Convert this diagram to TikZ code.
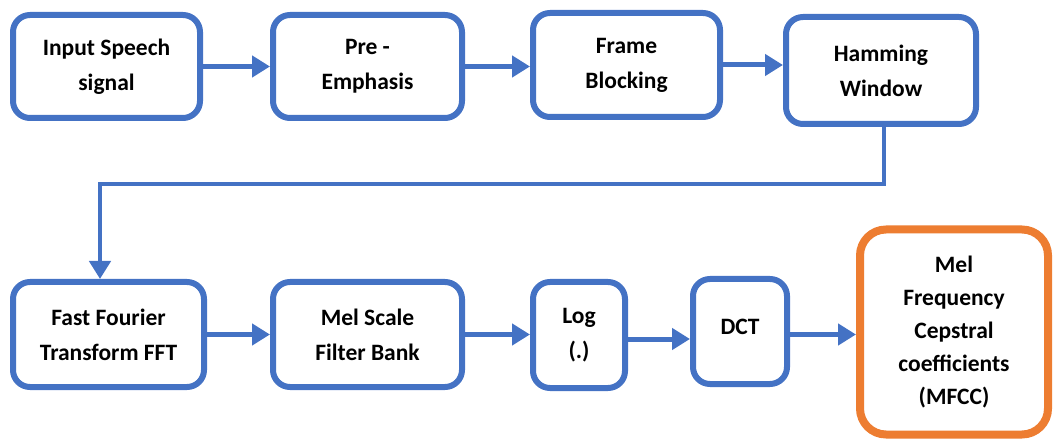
\documentclass[tikz,border=0pt]{standalone}
\usepackage{fontspec}
\setmainfont{Carlito}
\usetikzlibrary{arrows.meta,calc}
\definecolor{boxblue}{HTML}{4472C4}
\definecolor{boxorange}{HTML}{ED7D31}
\tikzset{
  stepbox/.style={draw=boxblue, line width=6pt, rounded corners=17pt, fill=white,
    align=center, font=\fontsize{23.5}{35}\selectfont\bfseries, inner sep=0pt},
  endbox/.style={stepbox, draw=boxorange, line width=8pt, rounded corners=26pt},
  flow/.style={draw=boxblue, line width=5pt, -{Triangle[length=18pt,width=21pt]}},
}
\begin{document}
\begin{tikzpicture}[x=1pt,y=-1pt]
\useasboundingbox (0,0) rectangle (1059,443);
\node[stepbox, minimum width=187pt, minimum height=103pt] (in) at (106.5,66.5) {Input Speech\\signal};
\node[stepbox, minimum width=189pt, minimum height=103pt] (pe) at (367.5,66.5) {Pre -\\Emphasis};
\node[stepbox, minimum width=187pt, minimum height=104pt] (fb) at (626.5,65) {Frame\\Blocking};
\node[stepbox, minimum width=190pt, minimum height=107pt] (hw) at (881,70.5) {Hamming\\Window};
\node[stepbox, minimum width=191pt, minimum height=105pt] (fft) at (108.5,334.5) {Fast Fourier\\Transform FFT};
\node[stepbox, minimum width=189pt, minimum height=105pt] (mel) at (367.5,334.5) {Mel Scale\\Filter Bank};
\node[stepbox, minimum width=92pt, minimum height=106pt] (log) at (579,335) {Log\\(.)};
\node[stepbox, minimum width=94pt, minimum height=105pt] (dct) at (740,331.5) {\raisebox{10pt}{DCT}};
\node[endbox, minimum width=188pt, minimum height=205pt] (mfcc) at (954,332) {Mel\\[-2pt]Frequency\\[-2pt]Cepstral\\[-2pt]coefficients\\[-2pt](MFCC)};
\coordinate (bendR) at (884,184);
\coordinate (bendL) at (100,184);
\draw[flow] (in.east) -- (in.east -| pe.west);
\draw[flow] (pe.east) -- (pe.east -| fb.west);
\draw[flow] (fb.east) -- (fb.east -| hw.west);
\draw[flow, line width=4.5pt] (hw.south -| bendR) -- (bendR) -- (bendL) -- (bendL |- fft.north);
\draw[flow] (fft.east) -- (fft.east -| mel.west);
\draw[flow] (mel.east) -- (mel.east -| log.west);
\draw[flow] ([yshift=-4pt]log.east) -- ([yshift=-4pt]log.east -| dct.west);
\draw[flow] ([yshift=-3pt]dct.east) -- ([yshift=-3pt]dct.east -| mfcc.west);
\end{tikzpicture}
\end{document}
